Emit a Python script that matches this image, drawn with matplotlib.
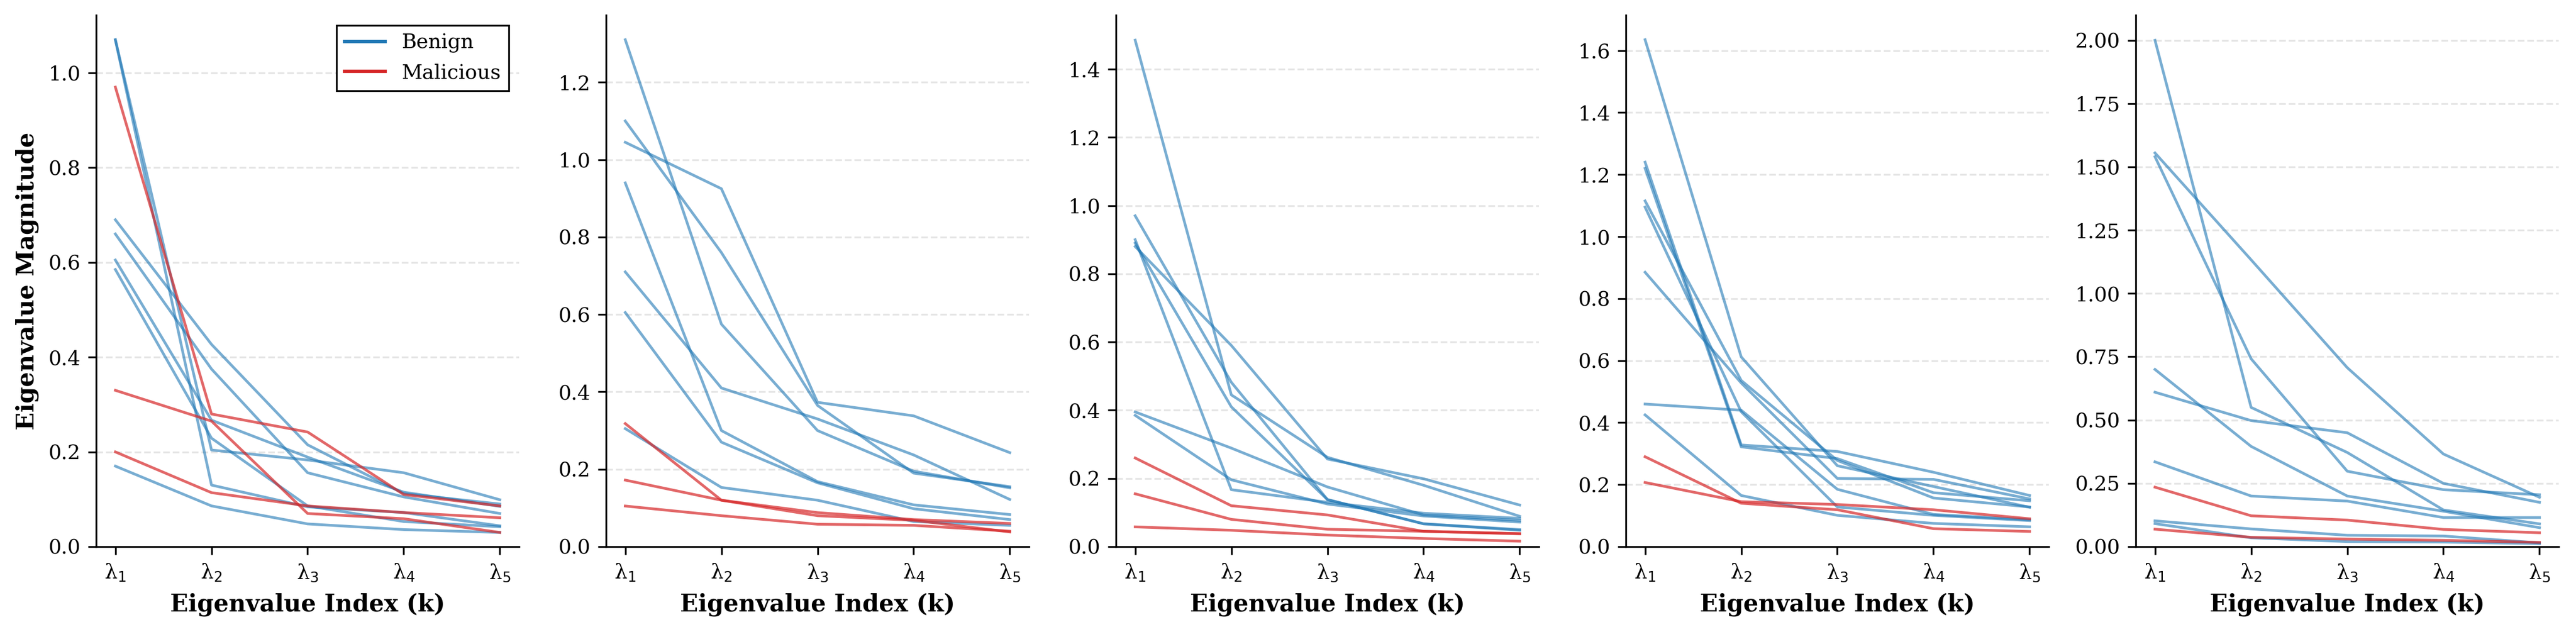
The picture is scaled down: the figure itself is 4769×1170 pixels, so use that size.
import matplotlib
matplotlib.use("Agg")
import matplotlib.pyplot as plt
from matplotlib.lines import Line2D

plt.rcParams['font.family'] = ['DejaVu Serif']

k_index = [1, 2, 3, 4, 5]
tick_labels = ['λ$_1$', 'λ$_2$', 'λ$_3$', 'λ$_4$', 'λ$_5$']

# Panel 1
p1_benign = [
    [1.07, 0.204, 0.183, 0.156, 0.099],
    [1.07, 0.130, 0.084, 0.072, 0.044],
    [0.69, 0.427, 0.215, 0.112, 0.090],
    [0.66, 0.375, 0.156, 0.105, 0.070],
    [0.605, 0.267, 0.189, 0.115, 0.085],
    [0.585, 0.229, 0.086, 0.053, 0.042],
    [0.17, 0.086, 0.048, 0.036, 0.030],
]
p1_malicious = [
    [0.97, 0.280, 0.242, 0.110, 0.086],
    [0.33, 0.265, 0.070, 0.059, 0.030],
    [0.20, 0.114, 0.086, 0.072, 0.061],
]

# Panel 2
p2_benign = [
    [1.31, 0.575, 0.300, 0.195, 0.152],
    [1.10, 0.760, 0.365, 0.190, 0.155],
    [1.045, 0.925, 0.373, 0.338, 0.243],
    [0.94, 0.300, 0.168, 0.108, 0.083],
    [0.71, 0.410, 0.330, 0.237, 0.122],
    [0.605, 0.270, 0.165, 0.098, 0.070],
    [0.305, 0.153, 0.120, 0.065, 0.055],
]
p2_malicious = [
    [0.318, 0.120, 0.080, 0.068, 0.038],
    [0.172, 0.120, 0.088, 0.070, 0.060],
    [0.105, 0.080, 0.058, 0.055, 0.040],
]

# Panel 3
p3_benign = [
    [1.485, 0.445, 0.262, 0.180, 0.089],
    [0.97, 0.482, 0.138, 0.067, 0.048],
    [0.88, 0.590, 0.257, 0.199, 0.122],
    [0.90, 0.167, 0.130, 0.098, 0.083],
    [0.89, 0.410, 0.138, 0.067, 0.050],
    [0.395, 0.289, 0.175, 0.093, 0.077],
    [0.385, 0.196, 0.125, 0.090, 0.072],
]
p3_malicious = [
    [0.26, 0.120, 0.093, 0.045, 0.038],
    [0.155, 0.080, 0.051, 0.045, 0.038],
    [0.058, 0.048, 0.034, 0.024, 0.016],
]

# Panel 4
p4_benign = [
    [1.635, 0.612, 0.261, 0.194, 0.127],
    [1.24, 0.328, 0.307, 0.240, 0.165],
    [1.22, 0.322, 0.284, 0.174, 0.148],
    [1.115, 0.536, 0.278, 0.157, 0.128],
    [1.095, 0.435, 0.128, 0.101, 0.084],
    [0.885, 0.528, 0.220, 0.217, 0.154],
    [0.46, 0.440, 0.185, 0.104, 0.087],
    [0.425, 0.165, 0.101, 0.075, 0.064],
]
p4_malicious = [
    [0.29, 0.140, 0.119, 0.058, 0.049],
    [0.207, 0.145, 0.136, 0.119, 0.090],
]

# Panel 5
p5_benign = [
    [2.00, 0.550, 0.372, 0.145, 0.090],
    [1.555, 1.133, 0.707, 0.366, 0.195],
    [1.54, 0.742, 0.298, 0.225, 0.205],
    [0.70, 0.396, 0.200, 0.140, 0.075],
    [0.61, 0.498, 0.450, 0.250, 0.175],
    [0.335, 0.200, 0.180, 0.115, 0.115],
    [0.102, 0.070, 0.045, 0.042, 0.015],
    [0.091, 0.035, 0.020, 0.018, 0.012],
]
p5_malicious = [
    [0.235, 0.122, 0.105, 0.068, 0.055],
    [0.069, 0.037, 0.030, 0.025, 0.017],
]

panels = [
    (p1_benign, p1_malicious),
    (p2_benign, p2_malicious),
    (p3_benign, p3_malicious),
    (p4_benign, p4_malicious),
    (p5_benign, p5_malicious),
]

BLUE = '#1f77b4'
RED = '#d62728'

W, H = 4769, 1170
fig = plt.figure(figsize=(W / 300, H / 300), dpi=300)
lefts = [178, 1122, 2066, 3010, 3954]
ax_w = 783
ax_bottom = 1012
ax_top = 28

for i, (ben, mal) in enumerate(panels):
    ax = fig.add_axes([lefts[i] / W, (H - ax_bottom) / H, ax_w / W, (ax_bottom - ax_top) / H])
    for series in ben:
        ax.plot(k_index, series, color=BLUE, alpha=0.6, lw=1.2)
    for series in mal:
        ax.plot(k_index, series, color=RED, alpha=0.7, lw=1.2)
    ax.set_ylim(bottom=0)
    ax.set_xticks(k_index)
    ax.set_xticklabels(tick_labels)
    ax.tick_params(axis='both', labelsize=9, length=3.5, width=0.8)
    ax.grid(axis='y', linestyle='--', color='gray', alpha=0.2, lw=0.8)
    ax.set_axisbelow(True)
    for s in ['top', 'right']:
        ax.spines[s].set_visible(False)
    for s in ['left', 'bottom']:
        ax.spines[s].set_linewidth(0.8)
    ax.set_xlabel('Eigenvalue Index (k)', fontsize=10.5, fontweight='bold')
    if i == 0:
        ax.set_ylabel('Eigenvalue Magnitude', fontsize=10.5, fontweight='bold')
        handles = [Line2D([0], [0], color=BLUE, lw=1.5),
                   Line2D([0], [0], color=RED, lw=1.5)]
        leg = ax.legend(handles, ['Benign', 'Malicious'], loc='upper right',
                        fontsize=9, fancybox=False, edgecolor='black', framealpha=1)
        leg.get_frame().set_linewidth(0.8)

fig.savefig('out.png', dpi=300)
